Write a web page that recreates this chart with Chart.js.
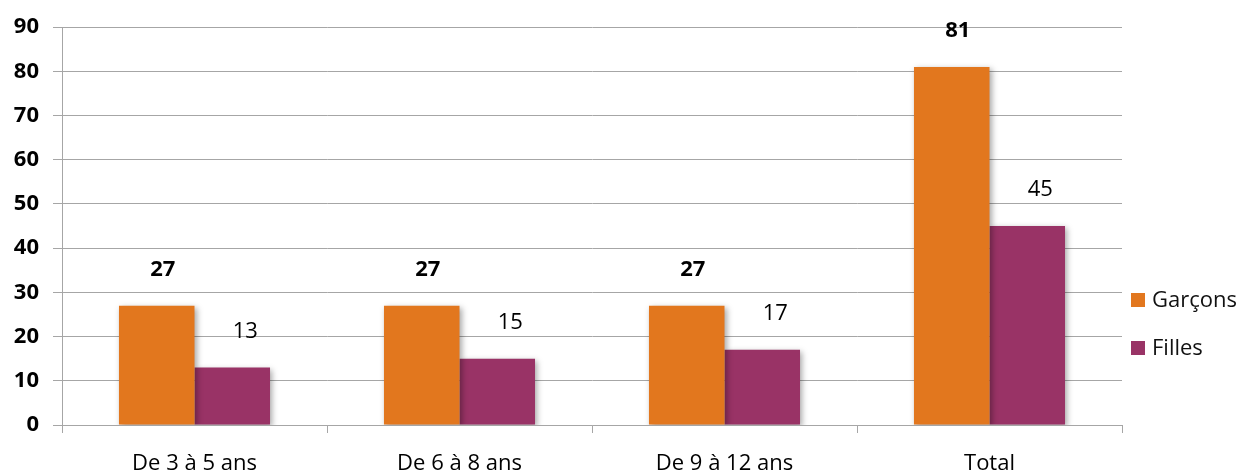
<!DOCTYPE html>
<html>
<head>
<meta charset="utf-8">
<script src="https://cdn.jsdelivr.net/npm/chart.js@4/dist/chart.umd.min.js"></script>
<style>
html,body{margin:0;padding:0;background:#fff;}
#wrap{width:1252px;height:471px;}
</style>
</head>
<body>
<div id="wrap"><canvas id="c" width="1252" height="471"></canvas></div>
<script>
const categories = ["De 3 à 5 ans", "De 6 à 8 ans", "De 9 à 12 ans", "Total"];
const garcons = [27, 27, 27, 81];
const filles = [13, 15, 17, 45];
const seriesNames = ["Garçons", "Filles"];
const seriesColors = ["#E2771E", "#993366"];
const yTicks = [0, 10, 20, 30, 40, 50, 60, 70, 80, 90];

const FONT = "'Open Sans', sans-serif";

const shadowPlugin = {
  id: 'barShadow',
  beforeDatasetsDraw(chart) {
    const ctx = chart.ctx;
    ctx.save();
    ctx.shadowColor = 'rgba(0,0,0,0.35)';
    ctx.shadowBlur = 6;
    ctx.shadowOffsetX = 2;
    ctx.shadowOffsetY = 2;
  },
  afterDatasetsDraw(chart) {
    chart.ctx.restore();
  }
};

const labelPlugin = {
  id: 'valueLabels',
  afterDraw(chart) {
    const ctx = chart.ctx;
    ctx.save();
    ctx.fillStyle = '#000';
    ctx.textAlign = 'center';
    ctx.textBaseline = 'middle';
    chart.data.datasets.forEach((ds, di) => {
      const meta = chart.getDatasetMeta(di);
      ctx.font = (di === 0 ? 'bold ' : '') + '22px ' + FONT;
      const dx = di === 0 ? 6 : 13;
      meta.data.forEach((bar, i) => {
        ctx.fillText(String(ds.data[i]), bar.x + dx, bar.y - 36);
      });
    });
    ctx.restore();
  }
};

const legendPlugin = {
  id: 'customLegend',
  afterDraw(chart) {
    const ctx = chart.ctx;
    const area = chart.chartArea;
    ctx.save();
    ctx.font = '22px ' + FONT;
    ctx.textBaseline = 'middle';
    ctx.textAlign = 'left';
    const yStart = 300, gap = 48;
    chart.data.datasets.forEach((ds, i) => {
      const y = yStart + i * gap;
      ctx.fillStyle = ds.backgroundColor;
      ctx.fillRect(area.right + 9, y - 7, 14, 14);
      ctx.fillStyle = '#111';
      ctx.fillText(ds.label, area.right + 30, y + 1);
    });
    ctx.restore();
  }
};

new Chart(document.getElementById('c'), {
  type: 'bar',
  data: {
    labels: categories,
    datasets: [
      { label: seriesNames[0], data: garcons, backgroundColor: seriesColors[0], borderWidth: 0 },
      { label: seriesNames[1], data: filles, backgroundColor: seriesColors[1], borderWidth: 0 }
    ]
  },
  options: {
    responsive: false,
    animation: false,
    devicePixelRatio: 1,
    layout: { padding: { top: 26, right: 130, bottom: 0, left: 0 } },
    plugins: { legend: { display: false }, tooltip: { enabled: false } },
    datasets: { bar: { categoryPercentage: 0.57, barPercentage: 1.0 } },
    scales: {
      x: {
        afterFit(scale) { scale.height = 46; },
        grid: { display: true, drawOnChartArea: false, offset: true, tickLength: 8, color: '#A6A6A6', lineWidth: 1 },
        border: { display: true, color: '#A6A6A6' },
        ticks: { color: '#000', font: { family: FONT, size: 22 }, padding: 18, maxRotation: 0 }
      },
      y: {
        min: 0, max: 90,
        afterBuildTicks(scale) { scale.ticks = yTicks.map(v => ({ value: v })); },
        afterFit(scale) { scale.width = 62; },
        grid: { color: '#A6A6A6', lineWidth: 1, tickLength: 9 },
        border: { display: true, color: '#A6A6A6' },
        ticks: { color: '#000', font: { family: FONT, size: 22, weight: 'bold' }, padding: 14 }
      }
    }
  },
  plugins: [shadowPlugin, labelPlugin, legendPlugin]
});
</script>
</body>
</html>
